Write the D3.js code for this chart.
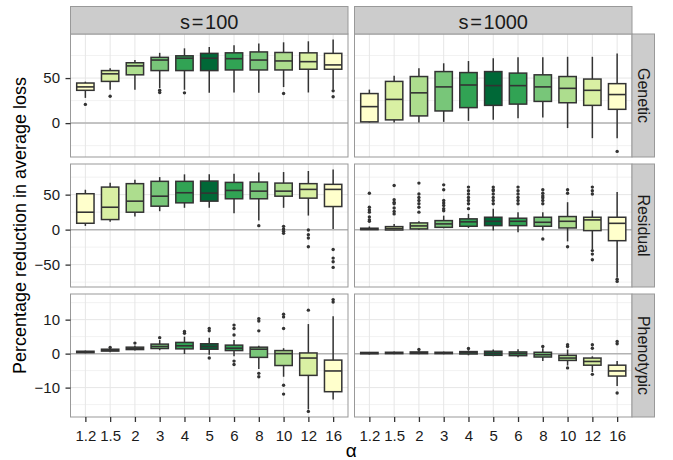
<!DOCTYPE html>
<html>
<head>
<meta charset="utf-8">
<title>Percentage reduction in average loss</title>
<script src="https://cdnjs.cloudflare.com/ajax/libs/d3/7.8.5/d3.min.js"></script>
<style>
    body { margin: 0; padding: 0; background: #fff; }
    svg text { font-family: "Liberation Sans", Arial, Helvetica, sans-serif; }
</style>
</head>
<body>
<script>
// categories
var alphas = ["1.2", "1.5", "2", "3", "4", "5", "6", "8", "10", "12", "16"];
var fills = ["#ffffcc", "#d9f0a3", "#addd8e", "#78c679", "#31a354", "#006837",
             "#31a354", "#78c679", "#addd8e", "#d9f0a3", "#ffffcc"];
var sizes = ["s=100", "s=1000"];
var traits = ["Genetic", "Residual", "Phenotypic"];

// [lower whisker, q1, median, q3, upper whisker] per alpha
var genetic100 = [[28, 36.4, 40.2, 44.5, 46], [37, 46.3, 54.7, 58.3, 61], [37, 53.6, 63.5, 67, 70],
    [39, 58.3, 70, 73, 78], [37, 58.3, 72, 74.7, 83], [33.6, 58.3, 72, 77.4, 84.6],
    [34, 59, 71.5, 78, 86.4], [33.6, 59, 70, 79, 88.3], [40, 59, 69, 78.4, 89.7],
    [34, 59.8, 68.2, 78, 90.8], [37, 59.8, 64.6, 77.4, 92.7]];
var genetic100Out = [[20.8], [29.9], [], [36.4, 33.9], [33.6], [], [], [], [32.8], [], [35.8, 29.2]];

var genetic1000 = [[0.7, 1.4, 18.3, 32.8, 37.2], [0.7, 3.6, 26.3, 46.3, 52.5], [0.7, 8, 33.6, 51.7, 61],
    [1.4, 13.5, 40.2, 57.2, 66.4], [2.5, 17.2, 42.3, 56.1, 68.9], [3.6, 19.7, 41.6, 57.2, 71.9],
    [5.5, 21.1, 41.6, 55.5, 73], [6.2, 24.1, 40.2, 53.6, 73], [-5.5, 22.6, 38.6, 51.7, 73.6],
    [-16.7, 19.7, 36.4, 48.9, 73.6], [-16.7, 15.3, 31.7, 43.8, 77.4]];
var genetic1000Out = [[], [], [], [], [], [], [], [], [], [], [-31.4]];

var residual100 = [[5.3, 9.1, 24.9, 51.3, 57], [11.1, 14.4, 32, 60.8, 67.1], [18.7, 24.9, 40.7, 65.7, 71.4],
    [26.3, 33.5, 47.8, 69, 75.1], [31.2, 38.3, 52.7, 69, 79], [31.2, 40.7, 52.2, 69.4, 79],
    [23.4, 44.1, 56, 67.5, 80], [12.9, 44.1, 55, 68, 81.5], [31.2, 47.8, 55, 66.5, 82.3],
    [20.1, 45, 57.5, 65.7, 83.8], [1, 33, 57.5, 64.7, 85.8]];
var residual100Out = [[], [], [], [], [], [], [], [5.7], [4.7, 1, -2.4, -5.3],
    [-0.5, -7.2, -12, -24.4], [-28.3, -40.7, -46, -54]];

var residual1000 = [[-0.5, 0, 0.5, 2, 4.5], [-1, -0.5, 1.5, 4.3, 8], [0, 1, 5.3, 9.6, 12],
    [1.9, 3.3, 8.2, 12.9, 20], [2.4, 4.8, 11.1, 15.4, 22.5], [-1.4, 5.7, 11.9, 17.7, 29.7],
    [-3.8, 5.7, 11.9, 16.3, 24.9], [-1.4, 4.8, 10.5, 17.7, 24.9], [-16.8, 2.4, 11.9, 18.7, 39.2],
    [-27.7, -1.4, 13.9, 17.7, 27.3], [-68.5, -15.8, 9, 17.7, 53.6]];
var residual1000Out = [[52, 32, 28, 25, 18, 14, 12], [63, 42.7, 39, 37, 31, 26, 22.5],
    [66.5, 51, 46, 41.7, 37, 32, 25], [64, 57, 41.7, 38, 34.5, 30, 27],
    [60.8, 55.6, 51, 46, 41.7, 37, 30], [60.8, 57, 55.6, 51, 46, 41.7, 37],
    [60.8, 55.6, 51, 46, 41.7, 37], [57, 52, 48, 45.5, 41.7, 37, -13.4],
    [57, 52, -24.4], [60.8, 55.6, 51, -30, -35, -43], [-70.8, -74]];

var phenotypic100 = [[0.1, 0.3, 0.5, 0.7, 0.9], [0.4, 0.75, 1, 1.3, 1.6], [0.9, 1.2, 1.5, 1.9, 2.4],
    [1, 1.5, 2.1, 2.8, 4], [-0.1, 1.4, 2.3, 3.3, 5], [-0.3, 1.3, 2.1, 2.9, 4.7],
    [-0.8, 0.9, 1.6, 2.5, 4], [-4.5, -1.1, 1.3, 1.9, 2.3], [-6.8, -3.5, 0, 0.9, 1.6],
    [-16.4, -6.4, -1.3, 0.2, 8.7], [-13.5, -11.2, -5.1, -1.9, 11]];
var phenotypic100Out = [[], [1.8], [3.1], [4.7], [6, 6.5], [6.7, 7.4, -1.3],
    [5.5, 7.4, 8.4, -2.2, -3.2], [6.7, 9.6, 10.3, -5.8, -6.8], [7.4, 10.8, 11.6, -9.3, -11.9],
    [12.8, -17], [15.2, 15.9]];

var phenotypic1000 = [[-0.25, -0.05, 0.15, 0.35, 0.5], [-0.2, 0, 0.2, 0.4, 0.6], [-0.2, 0, 0.25, 0.5, 0.8],
    [-0.2, 0, 0.2, 0.4, 0.6], [-0.5, -0.1, 0.3, 0.6, 1], [-0.8, -0.5, 0.1, 0.7, 1.2],
    [-1.1, -0.6, 0, 0.5, 1.3], [-2.2, -1, -0.3, 0.4, 1.6], [-3.5, -2, -1.3, -0.5, 1.2],
    [-5.4, -3.4, -2.3, -1.3, -0.8], [-9.5, -6.6, -5.1, -3.4, -2.2]];
var phenotypic1000Out = [[], [], [1.2], [], [1.5], [], [], [2.1], [2.1, 2.6, -4.2],
    [1.6, 2.6, -6.1], [3.6, 2.9, -11.6]];

var rows = [
    [[genetic100, genetic100Out], [genetic1000, genetic1000Out]],
    [[residual100, residual100Out], [residual1000, residual1000Out]],
    [[phenotypic100, phenotypic100Out], [phenotypic1000, phenotypic1000Out]]
];

// layout
var w = 673, h = 460;
var colX = [70.5, 354.5], panelW = 277.5;
var rowY = [34, 164, 294], panelH = 123;

var svg = d3.select("body").append("svg")
    .attr("width", w)
    .attr("height", h);

var x = d3.scalePoint()
    .domain(alphas)
    .range([0, panelW])
    .padding(0.6);
var boxW = x.step() * 0.7;

rows.forEach(function(row, r) {
    // shared y scale per row, ggplot style 5% expansion
    var all = [];
    row.forEach(function(p) {
        p[0].forEach(function(b) { all.push(b[0], b[4]); });
        p[1].forEach(function(o) { all = all.concat(o); });
    });
    var ext = d3.extent(all), pad = (ext[1] - ext[0]) * 0.05;
    var y = d3.scaleLinear()
        .domain([ext[0] - pad, ext[1] + pad])
        .range([panelH, 0]);
    var major = y.ticks(3);
    var step = major[1] - major[0];
    var minor = major.map(function(t) { return t - step / 2; })
        .concat([major[major.length - 1] + step / 2])
        .filter(function(t) { return t > y.domain()[0] && t < y.domain()[1]; });

    row.forEach(function(p, c) {
        var g = svg.append("g")
            .attr("transform", "translate(" + colX[c] + "," + rowY[r] + ")");

        g.append("rect")
            .attr("width", panelW).attr("height", panelH)
            .attr("fill", "#fff");

        g.selectAll(".minor").data(minor).enter().append("line")
            .attr("x1", 0).attr("x2", panelW)
            .attr("y1", y).attr("y2", y)
            .attr("stroke", "#f2f2f2").attr("stroke-width", 1);
        g.selectAll(".major").data(major).enter().append("line")
            .attr("x1", 0).attr("x2", panelW)
            .attr("y1", y).attr("y2", y)
            .attr("stroke", "#e6e6e6").attr("stroke-width", 1);
        g.selectAll(".vgrid").data(alphas).enter().append("line")
            .attr("x1", x).attr("x2", x)
            .attr("y1", 0).attr("y2", panelH)
            .attr("stroke", "#e6e6e6").attr("stroke-width", 1);

        // reference line at zero
        g.append("line")
            .attr("x1", 0).attr("x2", panelW)
            .attr("y1", y(0)).attr("y2", y(0))
            .attr("stroke", "#b3b3b3").attr("stroke-width", 1.5);

        var boxes = g.selectAll(".box").data(p[0]).enter().append("g")
            .attr("transform", function(d, i) { return "translate(" + x(alphas[i]) + ",0)"; });

        boxes.append("line")
            .attr("y1", function(d) { return y(d[0]); })
            .attr("y2", function(d) { return y(d[4]); })
            .attr("stroke", "#333").attr("stroke-width", 1.5);
        boxes.append("rect")
            .attr("x", -boxW / 2).attr("width", boxW)
            .attr("y", function(d) { return y(d[3]); })
            .attr("height", function(d) { return Math.max(0.5, y(d[1]) - y(d[3])); })
            .attr("fill", function(d, i) { return fills[i]; })
            .attr("stroke", "#333").attr("stroke-width", 1.5);
        boxes.append("line")
            .attr("x1", -boxW / 2).attr("x2", boxW / 2)
            .attr("y1", function(d) { return y(d[2]); })
            .attr("y2", function(d) { return y(d[2]); })
            .attr("stroke", "#333").attr("stroke-width", 1.6);

        boxes.each(function(d, i) {
            d3.select(this).selectAll("circle").data(p[1][i]).enter().append("circle")
                .attr("cx", 0).attr("cy", y).attr("r", 1.7)
                .attr("fill", "#333");
        });

        g.append("rect")
            .attr("width", panelW).attr("height", panelH)
            .attr("fill", "none").attr("stroke", "#999").attr("stroke-width", 1);

        if (c === 0) {
            var ya = g.append("g").call(d3.axisLeft(y).tickValues(major).tickSize(5).tickPadding(5.5)
                .tickFormat(d3.format("d")));
            ya.select(".domain").remove();
            ya.selectAll("line").attr("stroke", "#333").attr("stroke-width", 1.3);
            ya.selectAll("text").attr("font-size", 15).attr("fill", "#1a1a1a")
                .text(function(d) { return d < 0 ? "\u2212" + Math.abs(d) : d; });
        }
        if (r === rows.length - 1) {
            var xa = g.append("g").attr("transform", "translate(0," + panelH + ")")
                .call(d3.axisBottom(x).tickSize(5).tickPadding(8));
            xa.select(".domain").remove();
            xa.selectAll("line").attr("stroke", "#333").attr("stroke-width", 1.3);
            xa.selectAll("text").attr("font-size", 15).attr("fill", "#1a1a1a");
        }
        if (c === row.length - 1) {
            var sx = colX[c] + panelW;
            svg.append("rect")
                .attr("x", sx).attr("y", rowY[r])
                .attr("width", 22.5).attr("height", panelH)
                .attr("fill", "#cccccc").attr("stroke", "#999").attr("stroke-width", 1);
            svg.append("text")
                .attr("transform", "translate(" + (sx + 5.5) + "," + (rowY[r] + panelH / 2) + ") rotate(90)")
                .attr("text-anchor", "middle")
                .attr("font-size", 16).attr("fill", "#1a1a1a")
                .text(traits[r]);
        }
    });
});

// column strips
sizes.forEach(function(s, c) {
    svg.append("rect")
        .attr("x", colX[c]).attr("y", 6.5)
        .attr("width", panelW).attr("height", 27.5)
        .attr("fill", "#cccccc").attr("stroke", "#999").attr("stroke-width", 1);
    svg.append("text")
        .attr("x", colX[c] + panelW / 2).attr("y", 28.5)
        .attr("text-anchor", "middle")
        .attr("font-size", 20).attr("fill", "#1a1a1a")
        .text(s.replace("=", "\u200a=\u200a"));
});

// axis titles
svg.append("text")
    .attr("transform", "translate(26," + ((rowY[0] + rowY[2] + panelH) / 2) + ") rotate(-90)")
    .attr("text-anchor", "middle")
    .attr("font-size", 18).attr("fill", "#000")
    .text("Percentage reduction in average loss");

svg.append("text")
    .attr("x", colX[0] + (colX[1] + panelW - colX[0]) / 2).attr("y", 457)
    .attr("text-anchor", "middle")
    .attr("font-size", 19).attr("fill", "#000")
    .text("\u03b1");
</script>
</body>
</html>
